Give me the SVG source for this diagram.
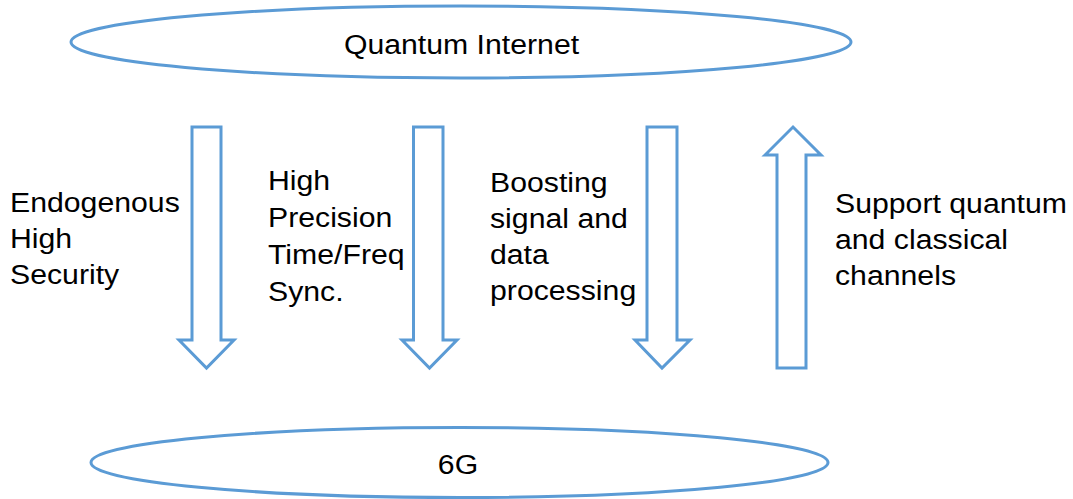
<svg xmlns="http://www.w3.org/2000/svg" width="1073" height="499" viewBox="0 0 1073 499">
<style>
.shape{fill:#ffffff;stroke:#5b9bd5;stroke-width:3}
.arrow{fill:#ffffff;stroke:#5b9bd5;stroke-width:3;stroke-linejoin:miter}
.lbl{font-family:"Liberation Sans",Arial,sans-serif;font-size:27px;fill:#000000}
</style>
<rect width="1073" height="499" fill="#ffffff"/>
<g id="quantum-internet">
<ellipse class="shape" cx="461" cy="42" rx="390" ry="36"/>
<text class="lbl" text-anchor="middle" transform="matrix(1.12 0 0 1 461.5 54)" x="0" y="0">Quantum Internet</text>
</g>
<g id="sixg">
<ellipse class="shape" cx="459.5" cy="462.5" rx="368.5" ry="35"/>
<text class="lbl" text-anchor="middle" transform="matrix(1.12 0 0 1 458 474)" x="0" y="0">6G</text>
</g>
<g id="connectors">
<polygon class="arrow" points="192,127 221,127 221,340 234,340 206.5,368 179,340 192,340"/>
<polygon class="arrow" points="413.5,127 443,127 443,340 457,340 429.5,368 402,340 413.5,340"/>
<polygon class="arrow" points="647,127 677,127 677,340 690,340 662,368 635,340 647,340"/>
<polygon class="arrow" points="777,368 806,368 806,155 821,155 793,127 765,155 777,155"/>
</g>
<g id="label-security">
<text class="lbl" transform="matrix(1.12 0 0 1 10 0)"><tspan x="0" y="212">Endogenous</tspan><tspan x="0" y="248">High</tspan><tspan x="0" y="284">Security</tspan></text>
</g>
<g id="label-sync">
<text class="lbl" transform="matrix(1.12 0 0 1 268 0)"><tspan x="0" y="190">High</tspan><tspan x="0" y="227">Precision</tspan><tspan x="0" y="264">Time/Freq</tspan><tspan x="0" y="301">Sync.</tspan></text>
</g>
<g id="label-boosting">
<text class="lbl" transform="matrix(1.12 0 0 1 490 0)"><tspan x="0" y="192">Boosting</tspan><tspan x="0" y="228">signal and</tspan><tspan x="0" y="264">data</tspan><tspan x="0" y="300">processing</tspan></text>
</g>
<g id="label-support">
<text class="lbl" transform="matrix(1.12 0 0 1 835 0)"><tspan x="0" y="213">Support quantum</tspan><tspan x="0" y="249">and classical</tspan><tspan x="0" y="285">channels</tspan></text>
</g>
</svg>
